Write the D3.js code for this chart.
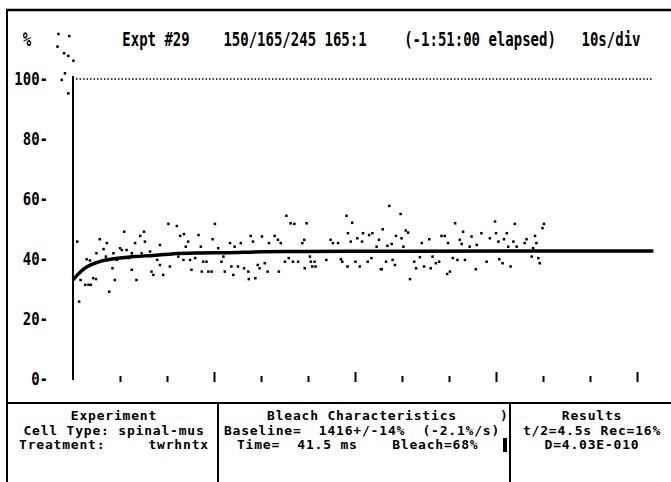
<!DOCTYPE html>
<html>
<head>
<meta charset="utf-8">
<script src="https://cdnjs.cloudflare.com/ajax/libs/d3/7.8.5/d3.min.js"></script>
<style>
  body { margin: 0; background: #fff; }
  svg { display: block; }
  text { font-family: "DejaVu Sans Mono", monospace; font-weight: bold; fill: #000; white-space: pre; }
</style>
</head>
<body>
<svg></svg>
<script>

// recovery scatter (time in s, value in %)
const times = [0.9,1.3,2.9,3.6,2.2,1.6,2.6,3.3,3.8,4.3,4.9,5.0,5.7,6.5,7.0,7.2,7.7,8.4,8.9,8.6,9.3,10.0,10.4,10.9,11.4,11.8,12.5,12.5,13.2,13.5,14.3,14.6,15.1,15.3,16.4,16.7,17.1,17.9,18.5,18.5,19.2,19.4,20.3,20.6,22.1,22.4,22.8,23.5,23.6,24.0,24.5,24.9,25.2,26.0,26.7,27.2,27.4,27.7,28.4,28.8,29.5,29.7,30.2,30.9,31.6,32.0,32.3,
  33.4,34.4,35.7,33.7,34.1,35.1,36.4,37.3,37.4,37.8,38.3,38.8,39.3,39.7,40.2,40.8,41.4,41.7,42.9,43.6,43.8,44.2,45.1,45.4,45.9,46.3,47.1,46.8,47.9,48.8,49.2,49.3,49.7,50.4,50.6,50.9,51.4,51.6,53.9,54.8,55.3,56.4,57.0,57.3,58.2,58.4,58.5,59.4,59.1,60.1,60.5,61.0,61.5,61.7,62.7,63.0,63.5,63.7,64.6,65.1,65.5,
  67.3,69.7,65.9,68.7,67.8,66.9,66.6,68.0,68.5,65.7,70.8,71.3,69.9,70.3,71.7,72.6,73.0,73.8,74.2,74.7,75.8,76.1,76.5,77.2,77.9,78.4,79.1,79.8,79.6,80.2,80.8,81.3,81.8,82.3,82.7,83.0,83.4,84.4,84.8,85.7,85.9,86.9,88.0,88.7,89.8,90.0,90.5,90.7,91.4,91.7,92.3,92.6,93.1,93.7,94.0,94.4,96.5,96.1,97.6,97.9,98.3,99.0,99.3,99.9,100.2,98.6]
const values = [45.8,25.8,39.9,39.5,36.4,33.0,31.4,31.4,31.4,33.6,33.3,41.9,46.6,43.3,40.8,45.3,29.1,36.9,33.0,41.9,39.7,43.6,43.0,49.1,43.0,40.3,41.9,36.4,45.3,33.0,47.7,41.9,49.1,45.8,42.5,35.8,34.7,39.7,44.7,38.0,34.7,41.4,51.7,37.5,51.0,40.8,47.7,39.7,48.3,44.1,45.8,39.7,36.4,40.3,48.0,44.1,35.8,39.1,39.1,35.8,35.8,46.6,51.7,43.6,39.1,40.8,35.8,
  45.3,44.1,45.3,37.5,34.7,37.5,36.9,35.8,33.3,47.7,45.8,33.6,38.0,36.9,47.5,38.6,35.8,45.3,47.7,46.4,35.8,45.3,39.1,54.4,40.3,51.9,51.7,39.1,39.1,45.3,46.4,36.9,51.9,40.8,39.1,37.5,39.1,37.5,39.7,46.4,45.3,45.3,39.9,39.1,54.4,37.5,48.6,52.1,45.8,39.1,46.9,37.5,45.8,48.6,39.1,48.0,40.3,48.6,44.1,46.4,36.6,
  57.7,55.0,49.9,47.7,45.0,44.4,39.1,39.7,38.0,36.6,49.5,48.8,46.9,44.1,33.3,39.1,36.9,40.6,45.3,37.5,46.6,36.9,40.8,38.6,39.1,47.7,47.7,45.3,35.0,35.8,40.3,51.9,39.7,46.4,45.0,49.1,39.7,44.1,47.5,36.6,44.7,48.6,39.1,46.9,52.5,48.6,45.8,39.9,38.6,46.6,48.6,44.1,37.5,45.8,51.7,44.1,46.6,45.3,40.8,43.6,47.7,40.3,38.6,50.3,51.7,45.3]

// pre-bleach points, left of the axis
const preTimes = [-3.1,-0.8,-3.3,-1.9,-1.0,0.1,-1.7,-2.4,-1.0]
const preValues = [115,114.3,110.8,108.6,107.7,106.1,101.9,99.7,95.2]

// fitted recovery curve
const fitTimes = [0,1,2,3,4,5,6,8,10,13,17,21,27,33,40,50,70,123.5]
const fitValues = [33,34.8,36.3,37.4,38.2,38.8,39.3,39.9,40.3,40.8,41.2,41.7,42,42.1,42.4,42.5,42.6,42.7]

const yTicks = [0,20,40,60,80,100]
const xTicks = [10,20,30,40,50,60,70,80,90,100,110,120]
const baseline = 100

const header = [
  {text: '%', x: 27},
  {text: 'Expt #29', x: 156},
  {text: '150/165/245 165:1', x: 295},
  {text: '(-1:51:00 elapsed)', x: 480},
  {text: '10s/div', x: 611}
]

const panels = [
  {x: 114, lines: ['Experiment', 'Cell Type: spinal-mus', 'Treatment:     twrhntx']},
  {x: 362, lines: ['Bleach Characteristics', 'Baseline=  1416+/-14%  (-2.1%/s)', ' Time=  41.5 ms    Bleach=68%  ']},
  {x: 592, lines: ['Results', 't/2=4.5s Rec=16%', 'D=4.03E-010']}
]

const W = 671, H = 482
const svg = d3.select('svg').attr('width', W).attr('height', H)

const x = d3.scaleLinear().domain([0, 120]).range([73, 637])
const y = d3.scaleLinear().domain([0, 100]).range([379, 79])

// frame
const frame = svg.append('g').attr('stroke', '#000').attr('fill', 'none')
frame.append('line').attr('x1', 6).attr('x2', W).attr('y1', 10).attr('y2', 10).attr('stroke-width', 2.5)
frame.append('line').attr('x1', 7).attr('x2', 7).attr('y1', 9).attr('y2', H).attr('stroke-width', 2)
frame.append('line').attr('x1', 6).attr('x2', W).attr('y1', 403).attr('y2', 403).attr('stroke-width', 2)
frame.append('line').attr('x1', 218).attr('x2', 218).attr('y1', 403).attr('y2', H).attr('stroke-width', 2)
frame.append('line').attr('x1', 510).attr('x2', 510).attr('y1', 403).attr('y2', H).attr('stroke-width', 2)

// header
svg.append('g').selectAll('text')
  .data(header)
  .enter().append('text')
  .attr('text-anchor', 'middle')
  .attr('font-size', 14)
  .attr('transform', d => `translate(${d.x},46) scale(1,1.35)`)
  .text(d => d.text)

// y axis labels, the dash is part of the label
let yAxis = svg.append('g')
  .attr('transform', 'translate(48,0)')
  .call(d3.axisLeft(y).tickValues(yTicks).tickSize(0).tickPadding(0).tickFormat(d => d + '-'))
yAxis.select('.domain').remove()
yAxis.selectAll('text')
  .attr('font-size', 14)
  .attr('font-family', '"DejaVu Sans Mono", monospace')
  .attr('font-weight', 'bold')
  .attr('transform', 'scale(1,1.3)')

// y axis line
svg.append('line')
  .attr('x1', x(0)).attr('x2', x(0))
  .attr('y1', y(101)).attr('y2', y(0) + 1)
  .attr('stroke', '#000').attr('stroke-width', 2)

// dotted 100% line
svg.append('line')
  .attr('x1', x(0) + 3).attr('x2', x(123.5))
  .attr('y1', y(baseline)).attr('y2', y(baseline))
  .attr('stroke', '#000').attr('stroke-width', 1.6)
  .attr('stroke-dasharray', '1.5,2')

// x ticks pointing up, no labels
let xAxis = svg.append('g')
  .attr('transform', `translate(0,${y(0) + 3})`)
  .call(d3.axisTop(x).tickValues(xTicks).tickSize(6).tickFormat(''))
xAxis.select('.domain').remove()
xAxis.selectAll('line')
  .attr('stroke', '#000')
  .attr('stroke-width', 2)
  .attr('y2', d => d % 30 === 0 ? -10 : -6)

// scatter
let pts = d3.zip(times, values).concat(d3.zip(preTimes, preValues))
svg.append('g').selectAll('rect')
  .data(pts)
  .enter().append('rect')
  .attr('x', d => x(d[0]) - 1.25)
  .attr('y', d => y(d[1]) - 1.25)
  .attr('width', 2.5)
  .attr('height', 2.5)
  .attr('fill', '#000')

// fit line
let line = d3.line()
  .x(d => x(d[0]))
  .y(d => y(d[1]))
  .curve(d3.curveMonotoneX)

svg.append('path')
  .datum(d3.zip(fitTimes, fitValues))
  .attr('d', line)
  .attr('fill', 'none')
  .attr('stroke', '#000')
  .attr('stroke-width', 3.5)

// bottom panels
panels.forEach(p => {
  svg.append('g').selectAll('text')
    .data(p.lines)
    .enter().append('text')
    .attr('text-anchor', 'middle')
    .attr('font-size', 13)
    .attr('letter-spacing', 0.8)
    .attr('x', p.x)
    .attr('y', (d, i) => 420 + i * 14.5)
    .text(d => d)
})

// close paren and block cursor in the middle panel
svg.append('text')
  .attr('font-size', 13)
  .attr('x', 500).attr('y', 420)
  .text(')')
svg.append('rect')
  .attr('x', 503).attr('y', 438)
  .attr('width', 4).attr('height', 14)
  .attr('fill', '#000')

</script>
</body>
</html>
